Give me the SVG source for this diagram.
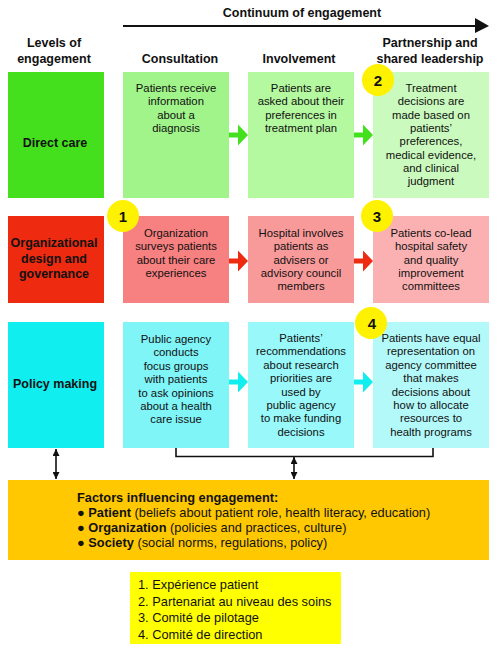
<svg xmlns="http://www.w3.org/2000/svg" width="500" height="651" viewBox="0 0 500 651">
<defs>
<style>
text{font-family:"Liberation Sans",Arial,sans-serif;fill:#111}
.h{font-size:12.5px;font-weight:bold;text-anchor:middle}
.b{font-size:11.3px;text-anchor:middle}
.lab{font-size:12.5px;font-weight:bold;text-anchor:middle}
.num{font-size:15px;font-weight:bold;text-anchor:middle}
.f{font-size:12.8px}
.lg{font-size:12.8px}
.circ{fill:#FFF200}
.ln{stroke:#111;stroke-width:1.6;fill:none}
</style>
<marker id="ah" viewBox="0 0 10 10" refX="10" refY="5" markerWidth="8" markerHeight="7" markerUnits="userSpaceOnUse" orient="auto-start-reverse"><path d="M0,0 L10,5 L0,10 z" fill="#111"/></marker>
</defs>

<g id="title">
<text class="h" x="302" y="17">Continuum of engagement</text>
</g>
<g id="headers">
<text class="h" x="54" y="47">Levels of</text>
<text class="h" x="54" y="63">engagement</text>
<text class="h" x="180" y="63">Consultation</text>
<text class="h" x="299" y="63">Involvement</text>
<text class="h" x="430" y="47">Partnership and</text>
<text class="h" x="430" y="63">shared leadership</text>
</g>

<g id="connectors">
<line x1="123" y1="26" x2="477" y2="26" stroke="#111" stroke-width="1.8"/>
<path d="M475,18 L489,26 L475,33 z" fill="#111"/>
<path d="M229,132.5 h9 v-8 l10,10.5 l-10,10.5 v-8 h-9 z" fill="#44E01E"/>
<path d="M354,132.5 h9 v-8 l10,10.5 l-10,10.5 v-8 h-9 z" fill="#44E01E"/>
<path d="M229,258.5 h9 v-8 l10,10.5 l-10,10.5 v-8 h-9 z" fill="#EE2B10"/>
<path d="M354,258.5 h9 v-8 l10,10.5 l-10,10.5 v-8 h-9 z" fill="#EE2B10"/>
<path d="M229,379.5 h9 v-8 l10,10.5 l-10,10.5 v-8 h-9 z" fill="#11EEF0"/>
<path d="M354,379.5 h9 v-8 l10,10.5 l-10,10.5 v-8 h-9 z" fill="#11EEF0"/>
<path class="ln" d="M176,448 V456.5 H433 V448"/>
<line class="ln" x1="56" y1="449" x2="56" y2="479" marker-start="url(#ah)" marker-end="url(#ah)"/>
<line class="ln" x1="294" y1="457" x2="294" y2="479" marker-start="url(#ah)" marker-end="url(#ah)"/>
</g>

<g id="direct-care">
<rect x="8" y="72" width="96" height="126" fill="#44E01E"/>
<text class="lab" x="55" y="147">Direct care</text>
</g>
<g id="dc-consultation">
<rect x="123" y="72" width="106" height="126" fill="#A0F489"/>
<text class="b" x="176" y="92">Patients receive</text>
<text class="b" x="176" y="105.3">information</text>
<text class="b" x="176" y="118.6">about a</text>
<text class="b" x="176" y="132">diagnosis</text>
</g>
<g id="dc-involvement">
<rect x="248" y="72" width="106" height="126" fill="#B4F8A0"/>
<text class="b" x="301" y="92">Patients are</text>
<text class="b" x="301" y="105.3">asked about their</text>
<text class="b" x="301" y="118.6">preferences in</text>
<text class="b" x="301" y="132">treatment plan</text>
</g>
<g id="dc-partnership">
<rect x="373" y="72" width="116" height="126" fill="#CAFABD"/>
<text class="b" x="431" y="92">Treatment</text>
<text class="b" x="431" y="105.3">decisions are</text>
<text class="b" x="431" y="118.6">made based on</text>
<text class="b" x="431" y="132">patients’</text>
<text class="b" x="431" y="145.3">preferences,</text>
<text class="b" x="431" y="158.6">medical evidence,</text>
<text class="b" x="431" y="172">and clinical</text>
<text class="b" x="431" y="185.3">judgment</text>
</g>

<g id="org-design">
<rect x="8" y="216" width="96" height="87" fill="#EE2B10"/>
<text class="lab" x="54" y="247">Organizational</text>
<text class="lab" x="54" y="263">design and</text>
<text class="lab" x="54" y="278">governance</text>
</g>
<g id="org-consultation">
<rect x="123" y="216" width="106" height="87" fill="#F78080"/>
<text class="b" x="176" y="237">Organization</text>
<text class="b" x="176" y="250.3">surveys patients</text>
<text class="b" x="176" y="263.6">about their care</text>
<text class="b" x="176" y="277">experiences</text>
</g>
<g id="org-involvement">
<rect x="248" y="216" width="106" height="87" fill="#F99A9A"/>
<text class="b" x="301" y="237">Hospital involves</text>
<text class="b" x="301" y="250.3">patients as</text>
<text class="b" x="301" y="263.6">advisers or</text>
<text class="b" x="301" y="277">advisory council</text>
<text class="b" x="301" y="290.3">members</text>
</g>
<g id="org-partnership">
<rect x="373" y="216" width="116" height="87" fill="#FBB1B1"/>
<text class="b" x="431" y="237">Patients co-lead</text>
<text class="b" x="431" y="250.3">hospital safety</text>
<text class="b" x="431" y="263.6">and quality</text>
<text class="b" x="431" y="277">improvement</text>
<text class="b" x="431" y="290.3">committees</text>
</g>

<g id="policy-making">
<rect x="8" y="322" width="96" height="126" fill="#11EEF0"/>
<text class="lab" x="55" y="388">Policy making</text>
</g>
<g id="pm-consultation">
<rect x="123" y="322" width="106" height="126" fill="#80F5F8"/>
<text class="b" x="176" y="343">Public agency</text>
<text class="b" x="176" y="356.4">conducts</text>
<text class="b" x="176" y="369.8">focus groups</text>
<text class="b" x="176" y="383.2">with patients</text>
<text class="b" x="176" y="396.6">to ask opinions</text>
<text class="b" x="176" y="410">about a health</text>
<text class="b" x="176" y="423.4">care issue</text>
</g>
<g id="pm-involvement">
<rect x="248" y="322" width="106" height="126" fill="#99F8FA"/>
<text class="b" x="301" y="342">Patients’</text>
<text class="b" x="301" y="355.4">recommendations</text>
<text class="b" x="301" y="368.8">about research</text>
<text class="b" x="301" y="382.2">priorities are</text>
<text class="b" x="301" y="395.6">used by</text>
<text class="b" x="301" y="409">public agency</text>
<text class="b" x="301" y="422.4">to make funding</text>
<text class="b" x="301" y="435.8">decisions</text>
</g>
<g id="pm-partnership">
<rect x="373" y="322" width="116" height="126" fill="#B4F9FA"/>
<text class="b" x="431" y="342">Patients have equal</text>
<text class="b" x="431" y="355.4">representation on</text>
<text class="b" x="431" y="368.8">agency committee</text>
<text class="b" x="431" y="382.2">that makes</text>
<text class="b" x="431" y="395.6">decisions about</text>
<text class="b" x="431" y="409">how to allocate</text>
<text class="b" x="431" y="422.4">resources to</text>
<text class="b" x="431" y="435.8">health programs</text>
</g>

<g id="badge-1">
<circle class="circ" cx="123" cy="216" r="16"/>
<text class="num" x="123" y="222">1</text>
</g>
<g id="badge-2">
<circle class="circ" cx="378" cy="80" r="16"/>
<text class="num" x="378" y="86">2</text>
</g>
<g id="badge-3">
<circle class="circ" cx="377" cy="216" r="16"/>
<text class="num" x="377" y="222">3</text>
</g>
<g id="badge-4">
<circle class="circ" cx="371" cy="323" r="16"/>
<text class="num" x="372" y="329">4</text>
</g>

<g id="factors">
<rect x="8" y="480" width="481" height="80" fill="#FFC800"/>
<text class="f" x="77" y="502" font-weight="bold">Factors influencing engagement:</text>
<text class="f" x="77" y="517"><tspan>● </tspan><tspan font-weight="bold">Patient</tspan> (beliefs about patient role, health literacy, education)</text>
<text class="f" x="77" y="532"><tspan>● </tspan><tspan font-weight="bold">Organization</tspan> (policies and practices, culture)</text>
<text class="f" x="77" y="547"><tspan>● </tspan><tspan font-weight="bold">Society</tspan> (social norms, regulations, policy)</text>
</g>

<g id="legend">
<rect x="130" y="572" width="211" height="72" fill="#FFFF00"/>
<text class="lg" x="138" y="589">1. Expérience patient</text>
<text class="lg" x="138" y="606">2. Partenariat au niveau des soins</text>
<text class="lg" x="138" y="622">3. Comité de pilotage</text>
<text class="lg" x="138" y="639">4. Comité de direction</text>
</g>
</svg>
